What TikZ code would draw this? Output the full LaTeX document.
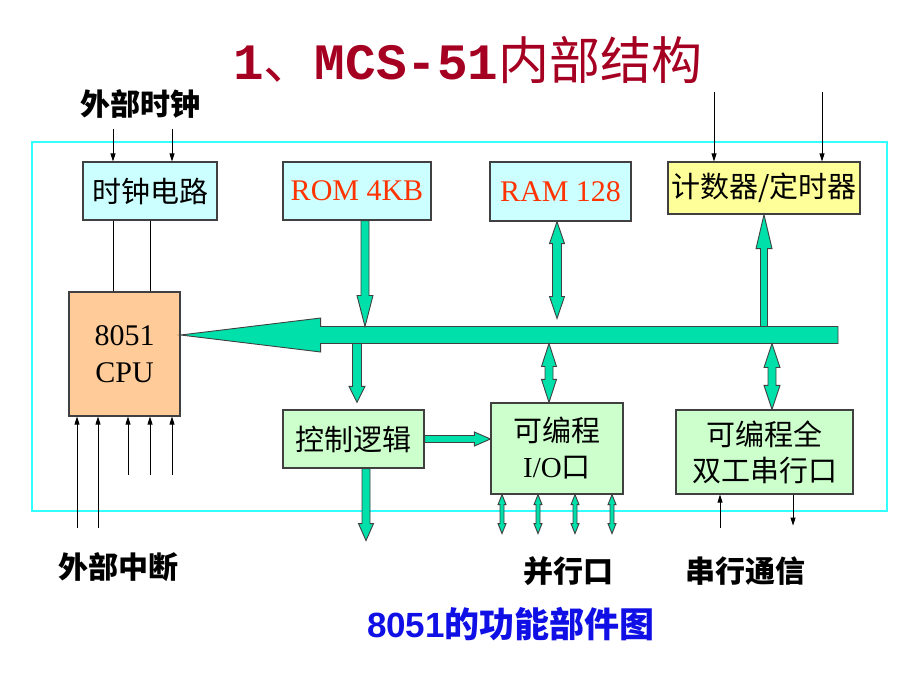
\documentclass[tikz,border=0pt]{standalone}
\usepackage{fontspec}
\setmainfont{Liberation Serif}
\newfontfamily\cjk{Noto Sans CJK SC}
\newfontfamily\capfont{Liberation Sans}
\newfontfamily\titlemono{Liberation Mono}
\usetikzlibrary{calc, arrows.meta, positioning}

\definecolor{busgreen}{RGB}{0,224,170}
\definecolor{titlered}{RGB}{165,0,33}
\definecolor{romred}{RGB}{255,51,0}
\definecolor{framecyan}{RGB}{51,255,255}
\definecolor{boxcyan}{RGB}{204,255,255}
\definecolor{boxgreen}{RGB}{204,255,204}
\definecolor{boxyellow}{RGB}{255,255,153}
\definecolor{boxpeach}{RGB}{255,204,153}
\definecolor{edgegray}{RGB}{64,64,64}
\definecolor{capblue}{RGB}{16,16,230}

\tikzset{
  unit/.style={draw=edgegray, line width=1.2pt, inner sep=0pt, align=center},
  zhtext/.style={font=\cjk\fontsize{29}{36}\selectfont},
  entext/.style={font=\fontsize{30}{37}\selectfont},
  biglabel/.style={font=\cjk\bfseries\fontsize{30}{32}\selectfont},
  sig/.style={-{Triangle[length=8pt,width=5pt]}, line width=0.8pt},
  wire/.style={line width=0.8pt},
  fat/.style={fill=busgreen, draw=edgegray, line width=0.9pt, line join=miter}
}

% fat arrow: shaft half width, head half width, head length, tail, tip
\newcommand{\fatarrow}[5]{%
  \coordinate (fa-s) at #4;
  \coordinate (fa-t) at #5;
  \coordinate (fa-h) at ($(fa-t)!#3!(fa-s)$);
  \filldraw[fat] ($(fa-s)!#1!90:(fa-t)$) -- ($(fa-h)!#1!90:(fa-t)$) -- ($(fa-h)!#2!90:(fa-t)$) -- (fa-t)
    -- ($(fa-h)!#2!-90:(fa-t)$) -- ($(fa-h)!#1!-90:(fa-t)$) -- ($(fa-s)!#1!-90:(fa-t)$) -- cycle;}
% same, with a head at both ends
\newcommand{\fatdouble}[5]{%
  \coordinate (fa-s) at #4;
  \coordinate (fa-t) at #5;
  \coordinate (fa-g) at ($(fa-s)!#3!(fa-t)$);
  \coordinate (fa-h) at ($(fa-t)!#3!(fa-s)$);
  \filldraw[fat] (fa-s) -- ($(fa-g)!#2!90:(fa-t)$) -- ($(fa-g)!#1!90:(fa-t)$) -- ($(fa-h)!#1!90:(fa-t)$)
    -- ($(fa-h)!#2!90:(fa-t)$) -- (fa-t) -- ($(fa-h)!#2!-90:(fa-t)$) -- ($(fa-h)!#1!-90:(fa-t)$)
    -- ($(fa-g)!#1!-90:(fa-t)$) -- ($(fa-g)!#2!-90:(fa-t)$) -- cycle;}

\begin{document}
\begin{tikzpicture}[x=1pt, y=-1pt]
  \useasboundingbox (0,0) rectangle (920,690);

  \node[font=\fontsize{51}{56}\selectfont, text=titlered] (title) at (468,60)
    {{\titlemono\bfseries 1}{\cjk 、}{\titlemono\bfseries MCS-51}{\cjk 内部结构}};

  % chip outline
  \node[draw=framecyan, line width=2pt, minimum width=855pt, minimum height=369pt, inner sep=0pt] (chip) at (459.5,326.5) {};

  \node[unit, fill=boxcyan, zhtext, minimum width=134pt, minimum height=58pt] (clk) at (150,191) {时钟电路};
  \node[unit, fill=boxcyan, entext, text=romred, minimum width=148pt, minimum height=58pt] (rom) at (357,191) {ROM 4KB};
  \node[unit, fill=boxcyan, entext, text=romred, minimum width=141pt, minimum height=59pt] (ram) at (560.5,191.5) {RAM 128};
  \node[unit, fill=boxyellow, zhtext, minimum width=192pt, minimum height=52pt] (tmr) at (764,188) {计数器/定时器};
  \node[unit, fill=boxpeach, entext, minimum width=111pt, minimum height=124pt] (cpu) at (124.5,354) {8051\\CPU};
  \node[unit, fill=boxgreen, zhtext, minimum width=141pt, minimum height=58pt] (ctl) at (353.5,439) {控制逻辑};
  \node[unit, fill=boxgreen, zhtext, minimum width=132pt, minimum height=91pt] (pio) at (557,448.5) {可编程\\{\rmfamily I/O}口};
  \node[unit, fill=boxgreen, zhtext, minimum width=177pt, minimum height=84pt] (sio) at (764.5,452) {可编程全\\双工串行口};

  \node[biglabel] (clklabel) at (140,104) {外部时钟};
  \node[biglabel] (intlabel) at (118,567) {外部中断};
  \node[biglabel] (pportlabel) at (568,571) {并行口};
  \node[biglabel] (sportlabel) at (745,571) {串行通信};
  \node[font=\bfseries\fontsize{35}{40}\selectfont, text=capblue] (caption) at (511,624) {{\capfont 8051}{\cjk 的功能部件图}};

  % internal bus
  \coordinate (busend) at (838,335);
  \coordinate (bustop) at (838,326.5);
  \coordinate (busbot) at (838,343.5);
  \fatarrow{8.5pt}{17pt}{140pt}{(busend)}{(cpu.east |- busend)}

  \coordinate (romout) at ($(rom.south)+(8,0)$);
  \fatarrow{4pt}{8pt}{31pt}{(romout)}{(romout |- bustop)}
  \coordinate (ramport) at ($(ram.south)+(-3.5,0)$);
  \fatdouble{4.5pt}{7.5pt}{22pt}{(ramport)}{($(ramport |- bustop)+(0,-8)$)}
  \fatarrow{3.5pt}{8pt}{34pt}{(tmr.south |- bustop)}{(tmr.south)}
  \coordinate (ctlin) at ($(ctl.north)+(3.5,-7)$);
  \fatarrow{4.5pt}{8pt}{16pt}{(ctlin |- busbot)}{(ctlin)}
  \coordinate (pioport) at ($(pio.north)+(-8,0)$);
  \fatdouble{4pt}{7.5pt}{23pt}{(pioport |- busbot)}{(pioport)}
  \coordinate (sioport) at ($(sio.north)+(7.5,0)$);
  \fatdouble{4pt}{8pt}{24pt}{(sioport |- busbot)}{(sioport)}
  \fatarrow{3.5pt}{7pt}{16pt}{(ctl.east)}{(ctl.east -| pio.west)}
  \coordinate (ctlout) at ($(ctl.south)+(12.5,72)$);
  \fatarrow{4pt}{7.5pt}{17pt}{(ctlout |- ctl.south)}{(ctlout)}
  \foreach \dx in {-55,-19,18,55}{
    \coordinate (pin) at ($(pio.south)+(\dx,39)$);
    \fatdouble{2pt}{4pt}{10pt}{(pin |- pio.south)}{(pin)}
  }

  % clock
  \foreach \dx in {-37,22}{
    \coordinate (clkin) at ($(clk.north)+(\dx,-32)$);
    \draw[sig] (clkin) -- (clkin |- clk.north);
  }
  \foreach \dx in {-37,0}{
    \coordinate (clkout) at ($(clk.south)+(\dx,0)$);
    \draw[wire] (clkout) -- (clkout |- cpu.north);
  }
  % timer inputs
  \foreach \dx in {-50,58}{
    \coordinate (tmrin) at ($(tmr.north)+(\dx,-69)$);
    \draw[sig] (tmrin) -- (tmrin |- tmr.north);
  }
  % interrupts
  \foreach \dx/\len in {-47.5/111, -26.5/111, 3.5/58, 25.5/58, 47.5/58}{
    \coordinate (intin) at ($(cpu.south)+(\dx,\len)$);
    \draw[sig] (intin) -- (intin |- cpu.south);
  }
  % serial lines
  \coordinate (rxd) at ($(sio.south)+(-44.5,33)$);
  \draw[sig] (rxd) -- (rxd |- sio.south);
  \coordinate (txd) at ($(sio.south)+(28.5,31)$);
  \draw[sig] (txd |- sio.south) -- (txd);
\end{tikzpicture}
\end{document}
